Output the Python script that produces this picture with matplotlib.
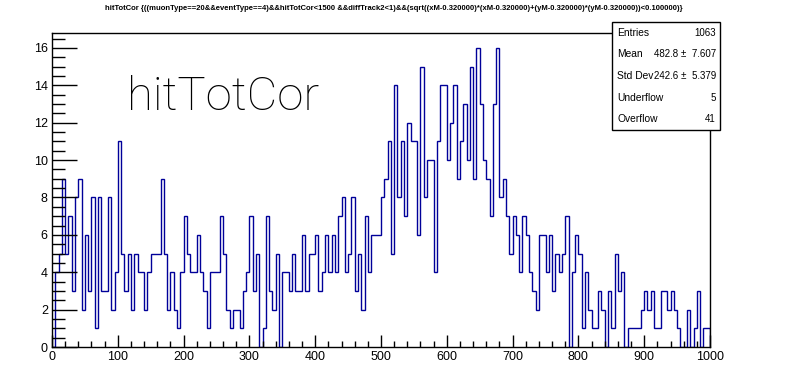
import numpy as np
import matplotlib
matplotlib.use('Agg')
import matplotlib.pyplot as plt
from matplotlib.patches import Rectangle
from matplotlib.ticker import MultipleLocator

plt.rcParams['font.family'] = ['Liberation Sans', 'DejaVu Sans']

# histogram binning: 200 bins on [0, 1000]
x_min, x_max, n_bins = 0, 1000, 200

counts = [
    0, 4, 5, 9, 5, 7, 3, 8, 9, 2, 6, 3, 8, 1, 8, 3, 3, 8, 2, 4,
    11, 5, 3, 5, 2, 5, 4, 4, 2, 4, 5, 5, 5, 9, 5, 2, 4, 2, 1, 4,
    7, 5, 4, 4, 6, 4, 3, 1, 4, 4, 4, 7, 5, 2, 1, 2, 2, 1, 3, 4,
    7, 3, 5, 0, 1, 7, 3, 2, 5, 0, 4, 4, 3, 5, 3, 3, 6, 3, 5, 5,
    6, 3, 4, 6, 4, 6, 4, 7, 8, 4, 5, 8, 3, 5, 2, 7, 4, 6, 6, 6,
    8, 9, 11, 5, 14, 8, 11, 7, 12, 11, 11, 6, 15, 8, 10, 10, 4, 11, 14, 14,
    10, 12, 14, 9, 11, 13, 10, 15, 9, 16, 13, 10, 9, 7, 13, 16, 8, 9, 7, 5,
    7, 6, 4, 7, 6, 4, 3, 2, 6, 6, 4, 6, 3, 5, 4, 5, 7, 0, 4, 6,
    5, 1, 4, 2, 1, 1, 3, 2, 0, 3, 1, 5, 3, 4, 0, 1, 1, 1, 1, 2,
    3, 2, 3, 1, 1, 3, 3, 2, 3, 2, 1, 0, 0, 2, 0, 1, 3, 0, 1, 1,
]

hist_name = 'hitTotCor'
cut = ('hitTotCor {((muonType==20&&eventType==4)&&hitTotCor<1500 &&diffTrack2<1)'
       '&&(sqrt((xM-0.320000)*(xM-0.320000)+(yM-0.320000)*(yM-0.320000))<0.100000)}')

# stats box rows (label, value)
stat_labels = ['Entries', 'Mean', 'Std Dev', 'Underflow', 'Overflow']
stat_values = ['1063', '482.8 \u00b1  7.607', '242.6 \u00b1  5.379', '5', '41']

edges = np.linspace(x_min, x_max, n_bins + 1)

fig = plt.figure(figsize=(7.88, 3.71), dpi=100)
ax = fig.add_axes([52/788, 24/371, 658/788, 314/371])

ax.stairs(counts, edges, baseline=0, color='#000099', linewidth=1.0)

ax.set_xlim(x_min, x_max)
ax.set_ylim(0, 1.05 * max(counts))

# ROOT-like axes: ticks inside, long y ticks, short x ticks
ax.xaxis.set_major_locator(MultipleLocator(100))
ax.xaxis.set_minor_locator(MultipleLocator(20))
ax.yaxis.set_major_locator(MultipleLocator(2))
ax.yaxis.set_minor_locator(MultipleLocator(0.5))
ax.tick_params(axis='x', which='major', direction='in', length=9, width=1, labelsize=9, pad=3)
ax.tick_params(axis='x', which='minor', direction='in', length=4.5, width=1)
ax.tick_params(axis='y', which='major', direction='in', length=18, width=1, labelsize=9, pad=3)
ax.tick_params(axis='y', which='minor', direction='in', length=9, width=1)
for s in ax.spines.values():
    s.set_linewidth(1)

# title and big label
fig.text(0.5, 0.978, cut, ha='center', va='center', fontsize=5.5, fontweight='bold')
fig.text(127/788, 1 - 110/371, hist_name, ha='left', va='baseline',
         fontsize=34, family=['Roboto', 'DejaVu Sans'], fontweight='light')

# stats box
bx0, bx1 = 612/788, 720/788
by1, by0 = 1 - 22/371, 1 - 130/371
fig.patches.append(Rectangle((bx0, by0), bx1 - bx0, by1 - by0, transform=fig.transFigure,
                             facecolor='white', edgecolor='black', linewidth=1, zorder=5))
row_h = (by1 - by0) / len(stat_labels)
for i, (lab, val) in enumerate(zip(stat_labels, stat_values)):
    yy = by1 - (i + 0.5) * row_h
    fig.text(bx0 + 5/788, yy, lab, ha='left', va='center', fontsize=7.4, zorder=6)
    fig.text(bx1 - 4/788, yy, val, ha='right', va='center', fontsize=7.0, zorder=6)

fig.savefig('out.png', dpi=100)
